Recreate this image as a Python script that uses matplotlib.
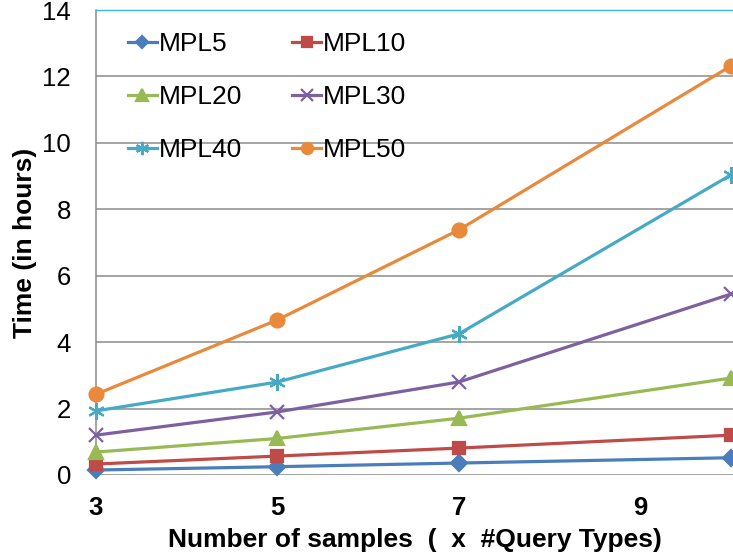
import matplotlib
matplotlib.use("Agg")
import matplotlib.pyplot as plt

plt.rcParams['font.family'] = ['Liberation Sans', 'DejaVu Sans']

# number of samples (x #Query Types)
samples = [3, 5, 7, 10]

mpl5 = [0.15, 0.25, 0.36, 0.52]
mpl10 = [0.33, 0.57, 0.81, 1.2]
mpl20 = [0.69, 1.1, 1.71, 2.92]
mpl30 = [1.2, 1.9, 2.8, 5.45]
mpl40 = [1.93, 2.8, 4.25, 9.04]
mpl50 = [2.43, 4.67, 7.38, 12.32]

series = [
    ("MPL5", mpl5, "#4A7EBB", "D", 8),
    ("MPL10", mpl10, "#BE4B48", "s", 9),
    ("MPL20", mpl20, "#98B954", "^", 10),
    ("MPL30", mpl30, "#7D60A0", "x", 10),
    ("MPL40", mpl40, "#46AAC5", (6, 2, 0), 12),
    ("MPL50", mpl50, "#E8893C", "o", 10),
]

fig = plt.figure(figsize=(7.33, 5.56), dpi=100)
ax = fig.add_axes([96 / 733, 81 / 556, 637 / 733, 465 / 556])

lines = {}
for name, vals, col, mk, ms in series:
    ln, = ax.plot(samples, vals, color=col, lw=2.3, marker=mk, markersize=ms,
                  markeredgewidth=1.6, label=name, clip_on=False, zorder=3)
    lines[name] = ln

ax.set_xlim(3, 10.02)
ax.set_ylim(0, 14)
ax.set_xticks([3, 5, 7, 9])
ax.set_yticks(range(0, 15, 2))
ax.grid(axis='y', color='#8c8c8c', lw=1.1)
ax.set_axisbelow(True)
ax.tick_params(length=0, labelsize=18.5)
ax.tick_params(axis='y', pad=18)
ax.tick_params(axis='x', pad=15)
for lab in ax.get_xticklabels():
    lab.set_fontweight('bold')

for s in ['right', 'bottom']:
    ax.spines[s].set_visible(False)
ax.spines['left'].set_color('#8c8c8c')
ax.spines['left'].set_linewidth(1.1)
ax.spines['top'].set_color('#3CB4E5')
ax.spines['top'].set_linewidth(1.0)

ax.set_xlabel('Number of samples  (  x  #Query Types)', fontsize=19,
              fontweight='bold', labelpad=6)
ax.set_ylabel('Time (in hours)', fontsize=19, fontweight='bold', labelpad=4)

# legend filled column-wise, so order gives rows MPL5/MPL10, MPL20/MPL30, ...
order = ["MPL5", "MPL20", "MPL40", "MPL10", "MPL30", "MPL50"]
ax.legend([lines[n] for n in order], order, loc='upper left',
          bbox_to_anchor=(0.033, 0.975), ncol=2, frameon=False, fontsize=19,
          handlelength=1.1, handletextpad=0.08, columnspacing=1.9,
          labelspacing=1.1, borderaxespad=0.0, markerscale=0.8)

fig.savefig('out.png', dpi=100)
